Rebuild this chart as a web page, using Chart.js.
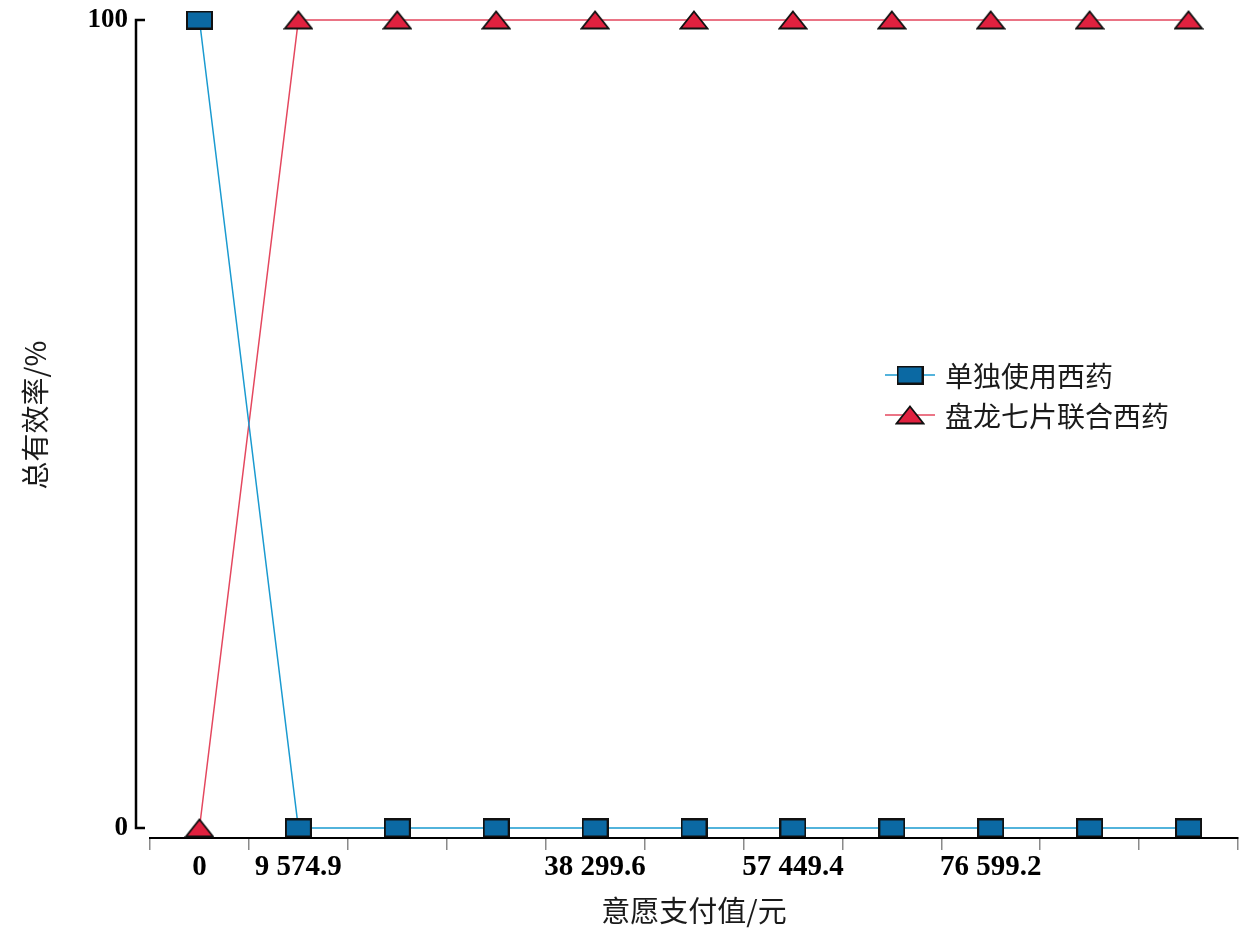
<!DOCTYPE html>
<html><head><meta charset="utf-8">
<script src="https://cdn.jsdelivr.net/npm/chart.js@4"></script>
<style>html,body{margin:0;padding:0;background:#fff}#wrap{width:1257px;height:930px}</style>
</head><body><div id="wrap"><canvas id="c" width="1257" height="930"></canvas></div>
<script>
const xLabels = ['0','9 574.9','','','38 299.6','','57 449.4','','76 599.2','',''];
const yTicks = [0, 100];
const seriesNames = ['单独使用西药','盘龙七片联合西药'];
const westernOnly = [100,0,0,0,0,0,0,0,0,0,0];
const combined = [0,100,100,100,100,100,100,100,100,100,100];
const xTitle = '意愿支付值/元';
const yTitle = '总有效率/%';

function mkRect(){const c=document.createElement('canvas');c.width=27;c.height=19;const g=c.getContext('2d');g.fillStyle='#0b69a3';g.fillRect(1,1,25,17);g.lineWidth=2;g.strokeStyle='#111';g.strokeRect(1,1,25,17);return c;}
function mkTri(){const c=document.createElement('canvas');c.width=30;c.height=20;const g=c.getContext('2d');g.beginPath();g.moveTo(15,1.5);g.lineTo(28.5,18.5);g.lineTo(1.5,18.5);g.closePath();g.fillStyle='#e0213f';g.fill();g.lineWidth=1.8;g.strokeStyle='#111';g.lineJoin='miter';g.stroke();return c;}
const rectImg=mkRect(), triImg=mkTri();
const serif = '"Liberation Serif","Times New Roman",serif';
const cjk = '"Noto Sans CJK SC","Noto Sans",sans-serif';

const deco = {
  id:'deco',
  afterDraw(chart){
    const g=chart.ctx, y=chart.scales.y;
    const x0=136, yt=y.getPixelForValue(100), yb=y.getPixelForValue(0);
    g.save();
    g.strokeStyle='#000'; g.lineWidth=2.5;
    g.beginPath(); g.moveTo(x0+9,yt); g.lineTo(x0,yt); g.lineTo(x0,yb); g.lineTo(x0+9,yb); g.stroke();
    const items=[{ds:chart.data.datasets[0],img:rectImg,y:375},{ds:chart.data.datasets[1],img:triImg,y:415}];
    items.forEach(it=>{
      g.strokeStyle=it.ds.borderColor; g.lineWidth=1.5;
      g.beginPath(); g.moveTo(885,it.y); g.lineTo(935,it.y); g.stroke();
      g.drawImage(it.img,910-it.img.width/2,it.y-it.img.height/2);
      g.fillStyle='#1a1a1a'; g.font='28px '+cjk; g.textBaseline='middle'; g.textAlign='left';
      g.fillText(it.ds.label,945,it.y+1);
    });
    g.translate(35,415); g.rotate(-Math.PI/2);
    g.textAlign='center'; g.textBaseline='middle'; g.font='28px '+cjk; g.fillStyle='#1a1a1a';
    g.fillText(yTitle,0,0);
    g.restore();
  }
};

new Chart(document.getElementById('c'),{
  type:'line',
  data:{labels:xLabels,datasets:[
    {label:seriesNames[0],data:westernOnly,borderColor:'#1a9ad0',borderWidth:1.5,pointStyle:rectImg,tension:0},
    {label:seriesNames[1],data:combined,borderColor:'#e4475e',borderWidth:1.5,pointStyle:triImg,tension:0}
  ]},
  options:{
    responsive:false,animation:false,devicePixelRatio:1,
    clip:false,
    layout:{padding:{top:20,right:19,left:0,bottom:2}},
    plugins:{legend:{display:false},tooltip:{enabled:false}},
    scales:{
      x:{type:'category',offset:true,
        grid:{display:true,offset:true,drawOnChartArea:false,drawTicks:true,tickLength:12,color:'#8a8a8a',lineWidth:1.5},
        border:{display:true,color:'#000',width:2},
        ticks:{autoSkip:false,maxRotation:0,color:'#000',font:{family:serif,weight:'bold',size:29},padding:0},
        title:{display:true,text:xTitle,color:'#1a1a1a',font:{family:cjk,size:29},padding:{top:2,bottom:0}},
        afterFit(s){s.height=90;s.paddingLeft=0;s.paddingRight=0;}
      },
      y:{min:-1.24,max:100,
        afterBuildTicks(s){s.ticks=yTicks.map(v=>({value:v}));},
        grid:{display:false,drawTicks:false},
        border:{display:false},
        ticks:{color:'#000',font:{family:serif,weight:'bold',size:27},padding:22},
        afterFit(s){s.width=150;s.paddingTop=0;s.paddingBottom=0;}
      }
    }
  },
  plugins:[deco]
});
</script></body></html>
